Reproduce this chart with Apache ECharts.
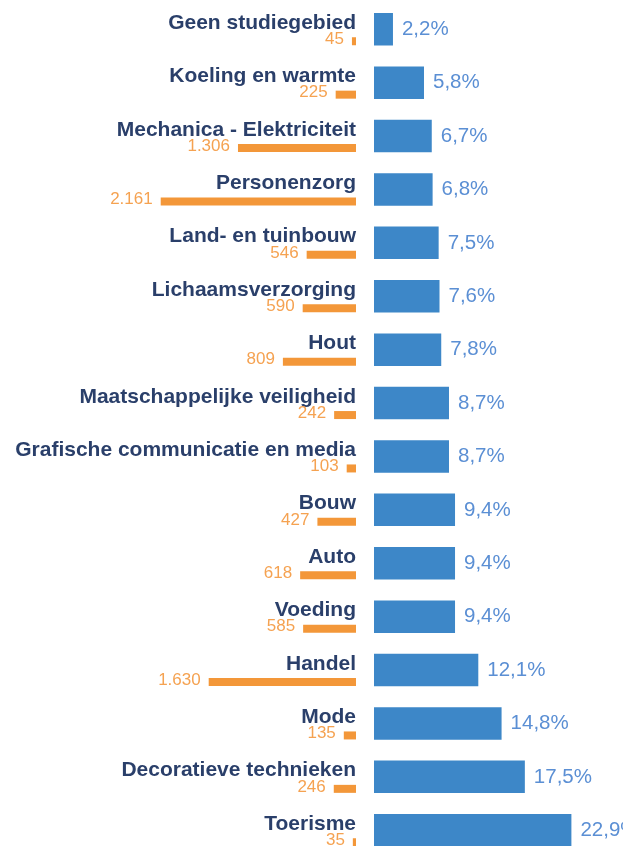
<!DOCTYPE html>
<html>
<head>
<meta charset="utf-8">
<script src="https://cdn.jsdelivr.net/npm/echarts@6/dist/echarts.min.js"></script>
<style>
  html, body { margin: 0; padding: 0; background: #ffffff; }
  #chart { width: 623px; height: 846px; }
</style>
</head>
<body>
<div id="chart"></div>
<script>
// Studiegebieden, top to bottom
const categories = [
  'Geen studiegebied',
  'Koeling en warmte',
  'Mechanica - Elektriciteit',
  'Personenzorg',
  'Land- en tuinbouw',
  'Lichaamsverzorging',
  'Hout',
  'Maatschappelijke veiligheid',
  'Grafische communicatie en media',
  'Bouw',
  'Auto',
  'Voeding',
  'Handel',
  'Mode',
  'Decoratieve technieken',
  'Toerisme'
];

// Aantal (orange, left)
const counts = [45, 225, 1306, 2161, 546, 590, 809, 242, 103, 427, 618, 585, 1630, 135, 246, 35];

// Percentage (blue, right)
const percentages = [2.2, 5.8, 6.7, 6.8, 7.5, 7.6, 7.8, 8.7, 8.7, 9.4, 9.4, 9.4, 12.1, 14.8, 17.5, 22.9];

const FONT = '"Liberation Sans", Arial, sans-serif';
const NAVY = '#2a3f6a';
const BLUE = '#3d87c8';
const BLUE_TXT = '#5b8fd4';
const ORANGE = '#f39739';
const ORANGE_TXT = '#f5a251';

// The list runs on below the bottom edge, so the grids are taller than the canvas
const gridTop = 2.55;
const gridHeight = 854.4;
const orangeShift = 12;

function fmtThousands(v) {
  return String(v).replace(/\B(?=(\d{3})+(?!\d))/g, '.');
}

const chart = echarts.init(document.getElementById('chart'), null, { renderer: 'canvas' });

chart.setOption({
  animation: false,
  backgroundColor: '#ffffff',
  grid: [
    { left: 374, top: gridTop, width: 200, height: gridHeight, containLabel: false, outerBoundsMode: 'none' },
    { left: 156, top: gridTop + orangeShift, width: 200, height: gridHeight, containLabel: false, outerBoundsMode: 'none' }
  ],
  xAxis: [
    {
      gridIndex: 0, type: 'value', min: 0, max: 200 / 8.62,
      show: false
    },
    {
      gridIndex: 1, type: 'value', min: 0, max: 200 / 0.09037, inverse: true,
      show: false
    }
  ],
  yAxis: [
    {
      gridIndex: 0, type: 'category', data: categories, inverse: true,
      position: 'left',
      axisLine: { show: false }, axisTick: { show: false }, splitLine: { show: false },
      axisLabel: {
        margin: 18,
        fontFamily: FONT, fontSize: 21, fontWeight: 'bold', color: NAVY,
        verticalAlign: 'bottom', lineHeight: 12.5
      }
    },
    {
      gridIndex: 1, type: 'category', data: categories, inverse: true,
      show: false
    }
  ],
  series: [
    {
      type: 'bar', xAxisIndex: 0, yAxisIndex: 0,
      data: percentages, barWidth: 32.5,
      itemStyle: { color: BLUE },
      label: {
        show: true, position: 'right', distance: 9,
        fontFamily: FONT, fontSize: 20.5, color: BLUE_TXT,
        formatter: p => String(p.value).replace('.', ',') + '%'
      }
    },
    {
      type: 'bar', xAxisIndex: 1, yAxisIndex: 1,
      data: counts, barWidth: 8,
      itemStyle: { color: ORANGE },
      label: {
        show: true, position: 'left', distance: 8, offset: [0, -2],
        fontFamily: FONT, fontSize: 17, color: ORANGE_TXT,
        formatter: p => fmtThousands(p.value)
      }
    }
  ]
});
</script>
</body>
</html>
